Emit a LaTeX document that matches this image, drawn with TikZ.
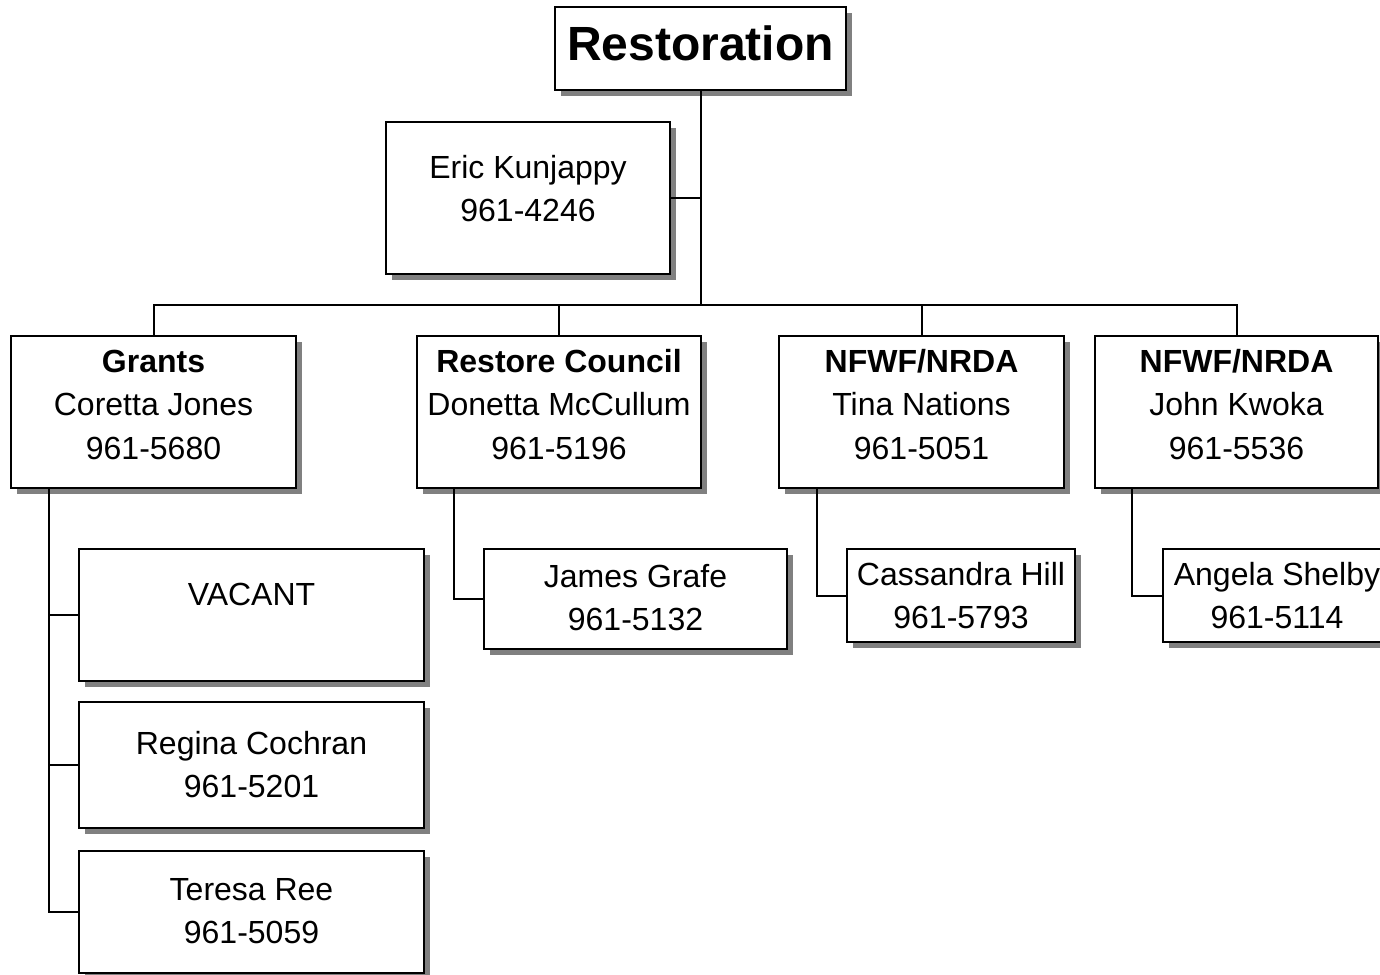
\documentclass[tikz,border=0pt]{standalone}
\usepackage{fontspec}
\setmainfont{Liberation Sans}
\usetikzlibrary{shadows}
\definecolor{shadowgray}{RGB}{128,128,128}
\begin{document}
\begin{tikzpicture}[x=1pt,y=-1pt,
  box/.style={draw=black, line width=2.2pt, fill=white, inner sep=0pt, outer sep=0pt,
    drop shadow={shadow xshift=6pt, shadow yshift=-6pt, fill=shadowgray, opacity=1}},
  conn/.style={draw=black, line width=2pt},
  txt/.style={anchor=north, align=center, inner sep=0pt, font=\fontsize{32}{43.5}\selectfont},
  title/.style={anchor=base, inner sep=0pt, font=\fontsize{48}{56}\selectfont\bfseries}]
\useasboundingbox (0,0) rectangle (1380,974);
% boxes
\node[box, minimum width=291pt, minimum height=83pt] (rest) at (700.5,48.5) {};
\node[box, minimum width=284pt, minimum height=152pt] (eric) at (528,198) {};
\node[box, minimum width=285pt, minimum height=152pt] (grants) at (153.5,412) {};
\node[box, minimum width=284pt, minimum height=152pt] (council) at (559,412) {};
\node[box, minimum width=285pt, minimum height=152pt] (tina) at (921.5,412) {};
\node[box, minimum width=283pt, minimum height=152pt] (john) at (1236.5,412) {};
\node[box, minimum width=345pt, minimum height=132pt] (vacant) at (251.5,615) {};
\node[box, minimum width=345pt, minimum height=126pt] (regina) at (251.5,765) {};
\node[box, minimum width=345pt, minimum height=122pt] (teresa) at (251.5,912) {};
\node[box, minimum width=303pt, minimum height=100pt] (james) at (635.5,599) {};
\node[box, minimum width=228pt, minimum height=93pt] (cass) at (961,595.5) {};
\node[box, minimum width=228pt, minimum height=93pt] (angela) at (1277,595.5) {};
% connectors
\coordinate (hub) at (700.5,305);
\draw[conn] (rest.south) -- (hub);
\draw[conn] (eric.east) -- (eric.east -| rest.south);
\draw[conn] (grants.north) -- (grants.north |- hub) -- (john.north |- hub) -- (john.north);
\draw[conn] (council.north) -- (council.north |- hub);
\draw[conn] (tina.north) -- (tina.north |- hub);
\coordinate (gtrunk) at (49,488);
\draw[conn] (gtrunk) |- (teresa.west);
\draw[conn] (gtrunk |- vacant.west) -- (vacant.west);
\draw[conn] (gtrunk |- regina.west) -- (regina.west);
\coordinate (ctrunk) at (454,488);
\draw[conn] (ctrunk) |- (james.west);
\coordinate (ttrunk) at (817,488);
\draw[conn] (ttrunk) |- (cass.west);
\coordinate (jtrunk) at (1132,488);
\draw[conn] (jtrunk) |- (angela.west);
% texts
\node[title] (trest) at (700.5,60) {Restoration};
\node[txt] (teric) at (528,147.5) {\strut Eric Kunjappy\\961-4246};
\node[txt] (tgrants) at (153.5,341.5) {\strut\textbf{Grants}\\Coretta Jones\\961-5680};
\node[txt] (tcouncil) at (559,341.5) {\strut\textbf{Restore Council}\\Donetta McCullum\\961-5196};
\node[txt] (ttina) at (921.5,341.5) {\strut\textbf{NFWF/NRDA}\\Tina Nations\\961-5051};
\node[txt] (tjohn) at (1236.5,341.5) {\strut\textbf{NFWF/NRDA}\\John Kwoka\\961-5536};
\node[txt] (tvacant) at (251.5,574.5) {\strut VACANT};
\node[txt] (tregina) at (251.5,723.5) {\strut Regina Cochran\\961-5201};
\node[txt] (tteresa) at (251.5,869.5) {\strut Teresa Ree\\961-5059};
\node[txt] (tjames) at (635.5,556.5) {\strut James Grafe\\961-5132};
\node[txt] (tcass) at (961,554.5) {\strut Cassandra Hill\\961-5793};
\node[txt] (tangela) at (1277,554.5) {\strut Angela Shelby\\961-5114};
\end{tikzpicture}
\end{document}
